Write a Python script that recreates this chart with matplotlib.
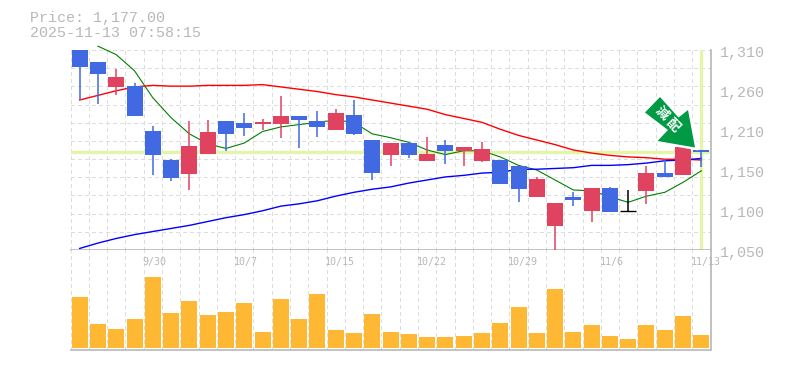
import numpy as np
import matplotlib
matplotlib.use('Agg')
import matplotlib.pyplot as plt
from matplotlib.patches import Polygon

W, H = 785, 370

# candles
opens = [1310, 1294, 1262, 1263, 1205, 1167, 1149, 1175, 1218, 1215, 1214, 1214, 1224, 1218, 1206, 1225, 1193, 1174,
         1189, 1166, 1186, 1179, 1166, 1167, 1159, 1119, 1081, 1119, 1101, 1131, 1101, 1127, 1150, 1148, 1180]
closes = [1288, 1279, 1275, 1224, 1174, 1144, 1185, 1203, 1201, 1209, 1216, 1224, 1219, 1210, 1228, 1201, 1150, 1189,
          1174, 1175, 1179, 1184, 1181, 1136, 1129, 1142, 1111, 1115, 1131, 1100, 1101, 1150, 1145, 1184, 1177]
highs = [1310, 1294, 1285, 1267, 1211, 1168, 1218, 1219, 1218, 1228, 1220, 1250, 1224, 1231, 1233, 1245, 1193, 1189,
         1190, 1197, 1193, 1184, 1190, 1167, 1159, 1145, 1111, 1125, 1131, 1132, 1128, 1159, 1168, 1184, 1180]
lows = [1245, 1240, 1251, 1224, 1148, 1140, 1128, 1175, 1179, 1198, 1206, 1196, 1183, 1197, 1206, 1200, 1141, 1159,
        1170, 1166, 1162, 1159, 1164, 1136, 1112, 1119, 1050, 1107, 1086, 1100, 1101, 1110, 1145, 1148, 1158]

# moving averages
ma_short = [np.nan, 1315, 1304, 1283, 1248, 1222, 1201, 1188, 1182, 1189, 1204, 1210, 1213, 1216, 1219, 1216, 1201, 1196,
            1190, 1180, 1174, 1179, 1179, 1171, 1160, 1154, 1141, 1128, 1127, 1119, 1112, 1120, 1125, 1138, 1153]
ma_mid = [1245, 1251, 1257, 1262, 1264, 1263, 1263, 1264, 1264, 1264, 1265, 1262, 1259, 1256, 1252, 1249, 1245, 1241,
          1237, 1233, 1226, 1221, 1216, 1207, 1199, 1193, 1187, 1180, 1176, 1173, 1171, 1170, 1168, 1168, 1167]
ma_long = [1052, 1059, 1065, 1070, 1074, 1078, 1082, 1087, 1092, 1096, 1101, 1107, 1110, 1114, 1120, 1125, 1129, 1132,
           1137, 1141, 1145, 1147, 1150, 1151, 1155, 1155, 1156, 1157, 1160, 1160, 1161, 1163, 1166, 1167, 1169]

volume = [51, 24, 19, 29, 71, 35, 47, 33, 36, 45, 16, 49, 29, 54, 18, 15, 34, 16,
          14, 11, 11, 12, 15, 25, 41, 15, 59, 16, 23, 12, 9, 23, 18, 32, 13]

# labels are rounded to tens in the source, ticks are really 52 apart
price_ticks = [1310, 1258, 1206, 1154, 1102, 1050]
price_labels = ['1,310', '1,260', '1,210', '1,150', '1,100', '1,050']
date_labels = ['9/30', '10/7', '10/15', '10/22', '10/29', '11/6', '11/13']
last_price = 1177

GREY = '#b8b8b8'
GRID = '#dddddd'
BLUE = '#4169e1'
RED = '#e0435f'
PALE = '#e3f5a8'
MONO = 'Liberation Mono'

fig = plt.figure(figsize=(W / 100, H / 100), dpi=100)
ax = fig.add_axes([70.5 / W, (H - 250) / H, 640 / W, 200 / H])
ax_vol = fig.add_axes([70.5 / W, (H - 350) / H, 640 / W, 100 / H])

x = np.arange(len(opens))

for a in (ax, ax_vol):
    a.set_xlim(-0.5, 34.5)
    a.set_xticks(np.arange(-0.5, 35, 1))
    a.tick_params(length=0, labelbottom=False, labelleft=False)
    a.grid(True, axis='x', color=GRID, linestyle=(0, (2.7, 2.7)), linewidth=0.8)
    a.set_axisbelow(True)
    a.spines['top'].set_visible(False)
    a.spines['left'].set_visible(False)
    for s in ('bottom', 'right'):
        a.spines[s].set_color(GREY)
        a.spines[s].set_linewidth(1.2)

# price panel
ax.set_ylim(1050, 1310)
ax.set_yticks(np.linspace(1050, 1310, 12))
ax.grid(True, axis='y', color=GRID, linestyle=(0, (2.7, 2.7)), linewidth=0.8)

for a in (ax, ax_vol):
    for gl in a.get_xgridlines() + a.get_ygridlines():
        gl.set_antialiased(False)

ax.axhline(last_price, color=PALE, linewidth=2.4, zorder=1)
ax.vlines(x[-1], 1050, 1310, color=PALE, linewidth=2.4, zorder=1)

ax.plot(x, ma_short, color='#008000', linewidth=0.8, zorder=2, clip_on=False)
ax.plot(x, ma_mid, color='#ff0000', linewidth=1.0, zorder=2)
ax.plot(x, ma_long, color='#0000ff', linewidth=1.0, zorder=2)

for i in x:
    if closes[i] > opens[i]:
        c = RED
    elif closes[i] < opens[i]:
        c = BLUE
    else:
        c = 'black'
    ax.vlines(i, lows[i], highs[i], color=c, linewidth=1.1, zorder=3)
    if c == 'black':
        ax.hlines(opens[i], i - 0.44, i + 0.44, color=c, linewidth=1.0, zorder=3)
    else:
        ax.bar(i, abs(closes[i] - opens[i]), bottom=min(opens[i], closes[i]), width=0.875, color=c, zorder=3)

for p, lab in zip(price_ticks, price_labels):
    ax.annotate(lab, xy=(1, p), xycoords=('axes fraction', 'data'), xytext=(7, -2),
                textcoords='offset points', ha='left', va='center', family=MONO, fontsize=10.8, color=GREY,
                annotation_clip=False)

# volume panel
ax_vol.set_ylim(-2, 98)
ax_vol.set_yticks([])
ax_vol.bar(x, volume, width=0.875, color='#ffb833', zorder=3)

for k, lab in enumerate(date_labels):
    ax_vol.annotate(lab, xy=(3.5 + 5 * k, 1), xycoords=('data', 'axes fraction'), xytext=(-1, -8.5),
                    textcoords='offset points', ha='left', va='center', family='DejaVu Sans Mono', fontsize=7.2,
                    color=GREY, annotation_clip=False, zorder=5)

# header
fig.text(29.5 / W, 1 - 18 / H, f'Price: {last_price:,}.00', family=MONO, fontsize=10.8, color=GREY, va='center')
fig.text(29.5 / W, 1 - 33 / H, '2025-11-13 07:58:15', family=MONO, fontsize=10.8, color=GREY, va='center')

# arrow
arrow_px = [(660, 97), (645, 112.5), (668, 130), (657.5, 141), (695, 147.5), (688, 110), (678.5, 117.5)]
arrow_fig = [(px / W, 1 - py / H) for px, py in arrow_px]
fig.add_artist(Polygon(arrow_fig, closed=True, transform=fig.transFigure, facecolor='#009944',
                       edgecolor='white', linewidth=3.5, joinstyle='miter', zorder=10))
fig.add_artist(Polygon(arrow_fig, closed=True, transform=fig.transFigure, facecolor='#009944',
                       edgecolor='none', zorder=11))
for ch, (px, py) in zip('減配', [(661.5, 113.5), (672.5, 125)]):
    fig.text(px / W, 1 - py / H, ch, family='Noto Sans CJK JP', fontweight='bold', fontsize=9.5, color='white',
             rotation=-45, ha='center', va='center', zorder=12)

fig.savefig('out.png', dpi=100)
